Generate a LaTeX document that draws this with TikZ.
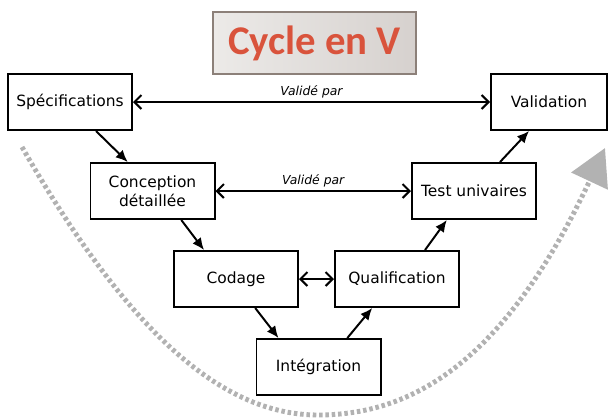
\documentclass[tikz,border=0pt]{standalone}
\usepackage{fontspec}
\setmainfont{DejaVu Sans}
\newfontfamily\titrefont{Carlito}
\usetikzlibrary{arrows.meta}

\definecolor{rougetitre}{RGB}{217,83,60}
\definecolor{grisfleche}{RGB}{178,178,178}
\definecolor{bordtitre}{RGB}{140,128,121}
\definecolor{titreclair}{RGB}{236,234,232}
\definecolor{titrefonce}{RGB}{214,209,206}

\begin{document}
\begin{tikzpicture}[x=0.025cm, y=-0.025cm,
    etape/.style={rectangle, draw, line width=1.4pt, fill=white, minimum width=3.1cm, minimum height=1.4cm, align=center, font=\fontsize{11}{13.5}\selectfont},
    lien/.style={line width=1.4pt, -{Latex[length=8.5pt,width=7.5pt]}},
    valide/.style={line width=1.4pt, {Straight Barb[length=5pt,width=10pt]}-{Straight Barb[length=5pt,width=10pt]}},
    etiquette/.style={font=\itshape\fontsize{8.8}{10}\selectfont}]

      \useasboundingbox (0,0) rectangle (609,417);

      % le grand retour en pointilles
      \draw [grisfleche, line width=3.5pt, dash pattern=on 2.5pt off 2pt, -{Triangle[length=26pt,width=28pt]}]
            (22,147) .. controls (124,325) and (218,415) .. (318,415)
                     .. controls (418,415) and (508,355) .. (605,148);

      \node [draw=bordtitre, line width=1pt, left color=titreclair, right color=titrefonce, minimum width=5.075cm, minimum height=1.55cm,
             font=\titrefont\bfseries\fontsize{29}{30}\selectfont, text=rougetitre] (titre) at (314.5,43) {Cycle en V};

      \node [etape] (specif) at (70,102) {Spécifications};
      \node [etape, minimum width=2.9cm] (valid) at (549,102) {Validation};
      \node [etape] (concep) at (152.5,191) {Conception\\détaillée};
      \node [etape] (tests) at (474,191) {Test univaires};
      \node [etape] (codage) at (236,279) {Codage};
      \node [etape] (qualif) at (397,279) {Qualification};
      \node [etape] (integ) at (318.5,367) {Intégration};

      \draw [valide] (specif.east) -- node [etiquette, above=-1pt] (val1) {Validé par} (valid.west);
      \draw [valide] (concep.east) -- node [etiquette, above=-1pt] (val2) {Validé par} (tests.west);
      \draw [valide] (codage.east) -- (qualif.west);

      \draw [lien] ([xshift=0.65cm]specif.south) -- ([xshift=-0.62cm]concep.north);
      \draw [lien] ([xshift=0.72cm]concep.south) -- ([xshift=-0.8cm]codage.north);
      \draw [lien] ([xshift=0.48cm]codage.south) -- ([xshift=-1cm]integ.north);
      \draw [lien] ([xshift=0.72cm]integ.north) -- ([xshift=-0.62cm]qualif.south);
      \draw [lien] ([xshift=0.7cm]qualif.north) -- ([xshift=-0.68cm]tests.south);
      \draw [lien] ([xshift=0.65cm]tests.north) -- ([xshift=-0.5cm]valid.south);

\end{tikzpicture}
\end{document}
